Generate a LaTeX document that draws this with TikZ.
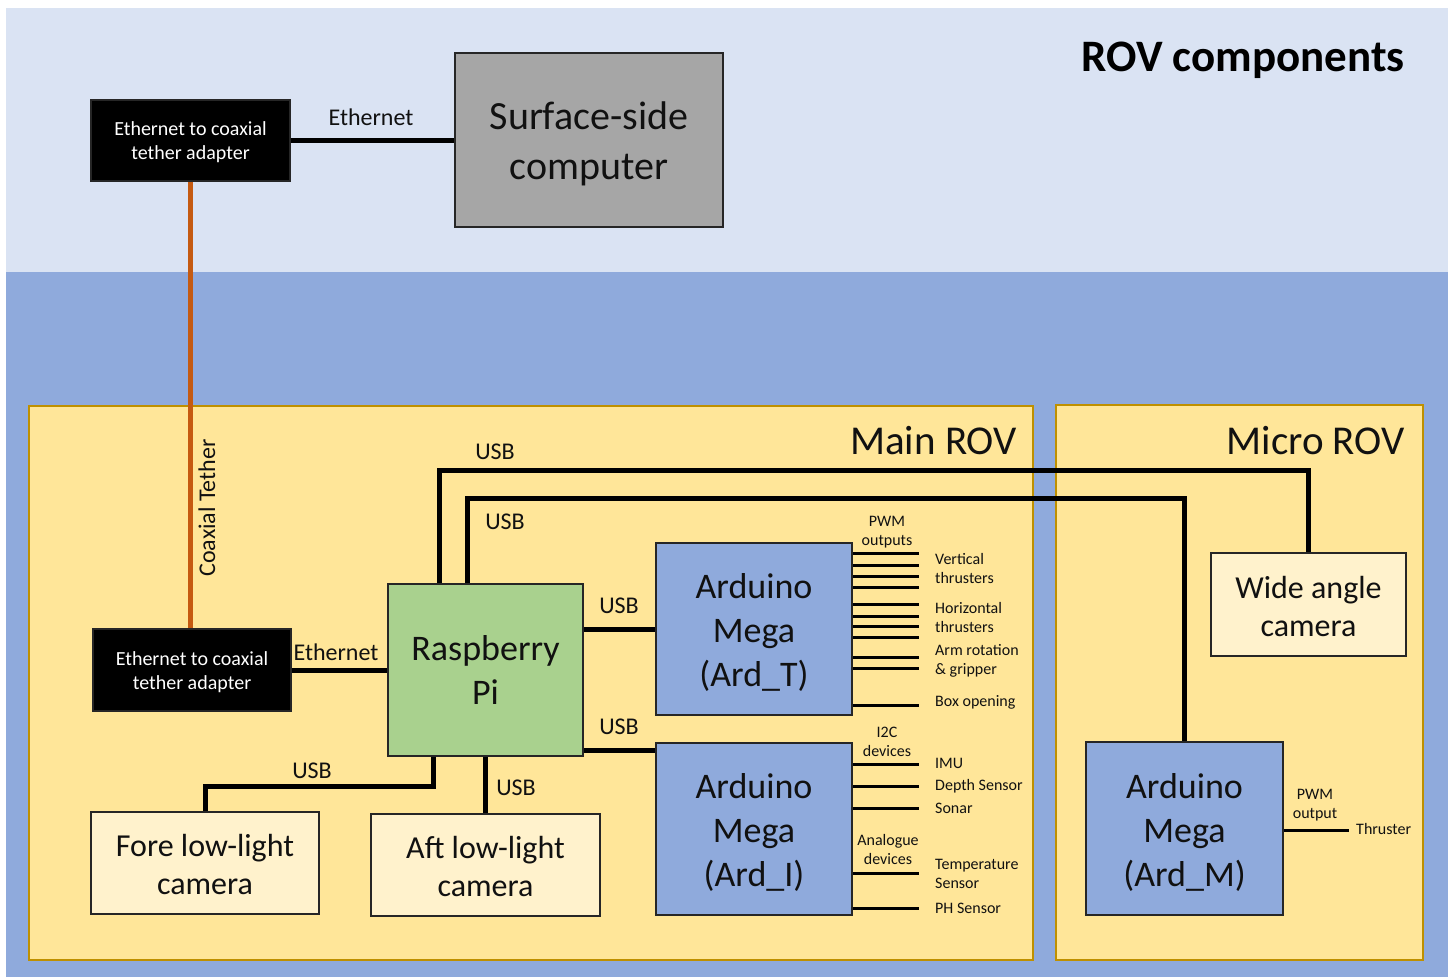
\documentclass[tikz,border=0pt]{standalone}
\usepackage{fontspec}
\setmainfont{Carlito}
\usetikzlibrary{calc}
\definecolor{skybg}{HTML}{DAE3F3}
\definecolor{seabg}{HTML}{8FAADC}
\definecolor{rovfill}{HTML}{FFE699}
\definecolor{rovline}{HTML}{BF9000}
\definecolor{pigreen}{HTML}{A9D18E}
\definecolor{ardblue}{HTML}{8FAADC}
\definecolor{camcream}{HTML}{FFF2CC}
\definecolor{pcgray}{HTML}{A6A6A6}
\definecolor{coax}{HTML}{C55A11}
\definecolor{boxline}{HTML}{262626}
\definecolor{txt}{HTML}{111111}
\tikzset{
  box/.style={draw=boxline, line width=2pt, inner sep=0pt, align=center, text=txt},
  conn/.style={line width=5pt, draw=black},
  sig/.style={line width=3pt, draw=black},
  lbl/.style={inner sep=0pt, text=txt, font=\fontsize{24}{29}\selectfont},
  small/.style={inner sep=0pt, text=txt, font=\fontsize{16}{19}\selectfont},
  smallw/.style={small, anchor=west, align=left},
  smallc/.style={small, align=center},
  big/.style={font=\fontsize{36}{44}\selectfont},
  cam/.style={box, fill=camcream, font=\fontsize{32}{38}\selectfont},
  ard/.style={box, fill=ardblue, big, minimum width=196, minimum height=172},
  adapter/.style={box, fill=black, text=white, font=\fontsize{20}{24}\selectfont},
}
\newcommand{\lowr}[2][9pt]{\raisebox{0pt}[\dimexpr\height+#1\relax][\depth]{\begin{tabular}{@{}c@{}}#2\end{tabular}}}
\begin{document}
\begin{tikzpicture}[x=1pt, y=-1pt]
\useasboundingbox (0,0) rectangle (1448,977);
% backgrounds
\fill[white] (0,0) rectangle (1448,977);
\fill[skybg] (6,8) rectangle (1448,272);
\fill[seabg] (6,272) rectangle (1448,977);
\draw[rovline, fill=rovfill, line width=1.5pt] (29,406) rectangle (1033,960);
\draw[rovline, fill=rovfill, line width=1.5pt] (1056,405) rectangle (1423,960);

% titles
\node[inner sep=0pt, anchor=east, text=black, font=\fontsize{45}{53}\selectfont\bfseries] (title) at (1405,60) {ROV components};
\node[inner sep=0pt, anchor=east, text=txt, font=\fontsize{41}{49}\selectfont] (mainrov) at (1017,441) {Main ROV};
\node[inner sep=0pt, anchor=east, text=txt, font=\fontsize{41}{49}\selectfont] (microrov) at (1405,441) {Micro ROV};

% nodes
\node[adapter, minimum width=199, minimum height=81] (adapt1) at (190.5,140.5) {\lowr[5pt]{Ethernet to coaxial\\tether adapter}};
\node[box, fill=pcgray, minimum width=268, minimum height=174, font=\fontsize{40}{49}\selectfont] (surf) at (589,140) {\lowr[10pt]{Surface-side\\[1pt]computer}};
\node[adapter, minimum width=198, minimum height=82] (adapt2) at (192,670) {\lowr[5pt]{Ethernet to coaxial\\tether adapter}};
\node[box, fill=pigreen, big, minimum width=195, minimum height=172] (pi) at (485.5,670) {\lowr[7pt]{Raspberry\\Pi}};
\node[ard] (ardt) at (754,629) {\lowr[10pt]{Arduino\\Mega\\(Ard\_T)}};
\node[ard] (ardi) at (754,829) {\lowr[10pt]{Arduino\\Mega\\(Ard\_I)}};
\node[ard, minimum width=197, minimum height=173] (ardm) at (1184.5,828.5) {\lowr[10pt]{Arduino\\Mega\\(Ard\_M)}};
\node[cam, minimum width=195, minimum height=103] (wide) at (1308.5,604.5) {\lowr[10pt]{Wide angle\\camera}};
\node[cam, minimum width=228, minimum height=102] (fore) at (205,863) {\lowr[10pt]{Fore low-light\\camera}};
\node[cam, minimum width=229, minimum height=102] (aft) at (485.5,865) {\lowr[10pt]{Aft low-light\\camera}};

% connectors
\draw[conn] (adapt1.east) -- (adapt1.east -| surf.west);
\draw[coax, line width=5pt] (adapt1.south) -- (adapt1.south |- adapt2.north);
\draw[conn] (adapt2.east) -- (adapt2.east -| pi.west);
\draw[conn] ([xshift=-46.5]pi.north) -- ++(0,-113) -| (wide.north);
\draw[conn] ([xshift=-18.5]pi.north) -- ++(0,-85) -| (ardm.north);
\draw[conn] ([yshift=41]pi.east) -- ([yshift=41]pi.east -| ardt.west);
\draw[conn] ([yshift=-80]pi.east) -- ([yshift=-80]pi.east -| ardi.west);
\draw[conn] ([xshift=-52.5]pi.south) -- ++(0,29) -| (fore.north);
\draw[conn] (pi.south) -- (aft.north);

% signal stubs
\foreach \y in {553,565,576,587,604,616,626,637,657,668,705}
  \draw[sig] (ardt.east |- 0,\y) -- ++(66,0);
\foreach \y in {764,786,808,873,908}
  \draw[sig] (ardi.east |- 0,\y) -- ++(66,0);
\draw[sig] (ardm.east |- 0,830) -- ++(65,0);

% labels
\node[lbl] (l1) at (371,117) {Ethernet};
\node[lbl, rotate=90] (l2) at (207,508) {Coaxial Tether};
\node[lbl] (l3) at (336,652) {Ethernet};
\node[lbl] (u1) at (495,452) {USB};
\node[lbl] (u2) at (505,522) {USB};
\node[lbl] (u3) at (619,606) {USB};
\node[lbl] (u4) at (619,727) {USB};
\node[lbl] (u5) at (312,771) {USB};
\node[lbl] (u6) at (516,788) {USB};

\node[smallc] (s1) at (887,532) {PWM\\outputs};
\node[smallw] (s2) at (935,568) {Vertical\\thrusters};
\node[smallw] (s3) at (935,617) {Horizontal\\thrusters};
\node[smallw] (s4) at (935,661) {Arm rotation\\\& gripper};
\node[smallw] (s5) at (935,702) {Box opening};
\node[smallc] (s6) at (887,742) {I2C\\devices};
\node[smallw] (s7) at (935,763) {IMU};
\node[smallw] (s8) at (935,786) {Depth Sensor};
\node[smallw] (s9) at (935,808) {Sonar};
\node[smallc] (s10) at (888,849) {Analogue\\devices};
\node[smallw] (s11) at (935,874) {Temperature\\Sensor};
\node[smallw] (s12) at (935,908) {PH Sensor};
\node[smallc] (s13) at (1315,805) {PWM\\output};
\node[smallw] (s14) at (1356,829) {Thruster};
\end{tikzpicture}
\end{document}
